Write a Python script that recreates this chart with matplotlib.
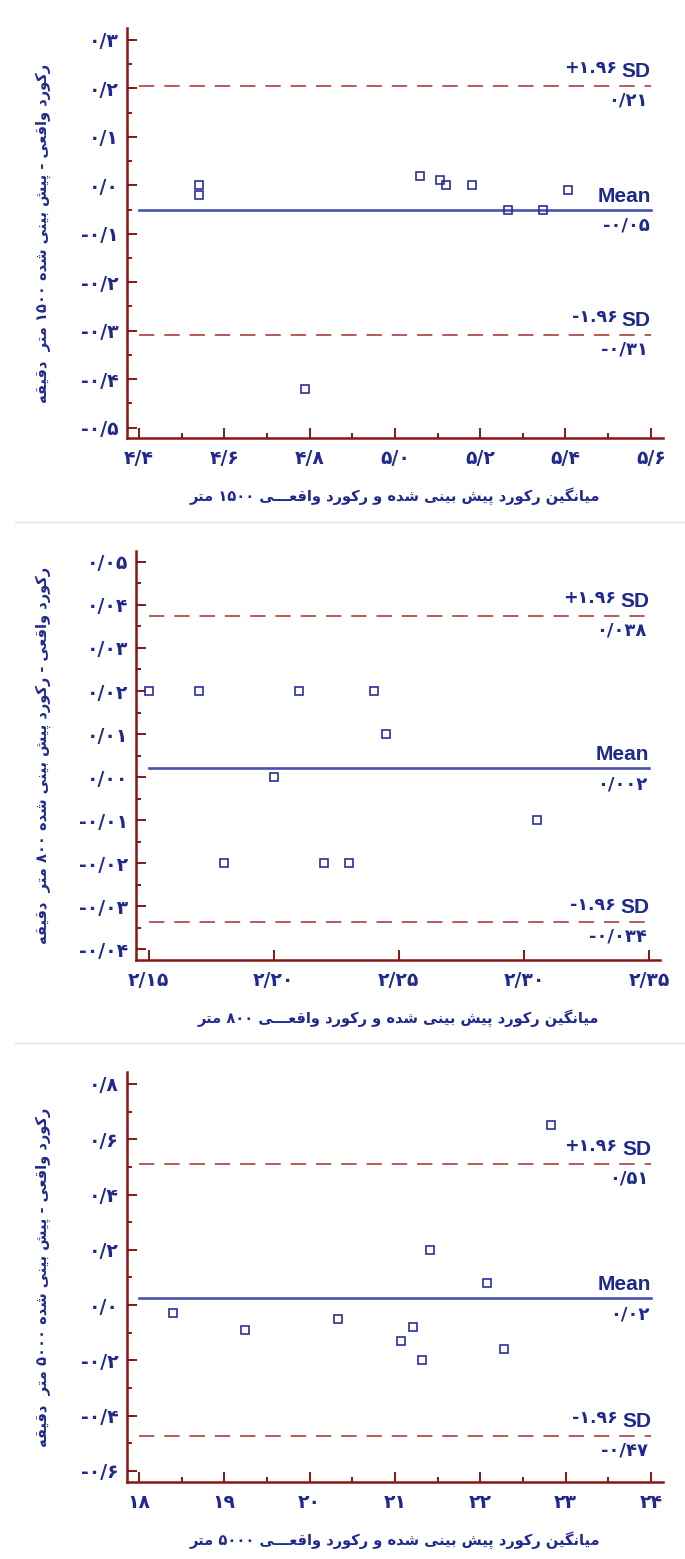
import re
import matplotlib
matplotlib.use("Agg")
import matplotlib.pyplot as plt
from matplotlib.ticker import MultipleLocator, FuncFormatter, NullLocator
from matplotlib.lines import Line2D

# ======== داده‌ها (خوانده شده از تصویر) ========
x_1500 = [4.54, 4.54, 4.79, 5.06, 5.106, 5.12, 5.18, 5.266, 5.347, 5.405]
d_1500 = [0.0, -0.02, -0.42, 0.02, 0.01, 0.0, 0.0, -0.05, -0.05, -0.01]

x_800 = [2.15, 2.17, 2.18, 2.20, 2.21, 2.22, 2.23, 2.24, 2.245, 2.305]
d_800 = [0.02, 0.02, -0.02, 0.0, 0.02, -0.02, -0.02, 0.02, 0.01, -0.01]

x_5000 = [18.40, 19.245, 20.335, 21.07, 21.21, 21.32, 21.41, 22.08, 22.28, 22.83]
d_5000 = [-0.03, -0.09, -0.05, -0.13, -0.08, -0.20, 0.20, 0.08, -0.16, 0.65]

mean_vals = [-0.051, 0.002, 0.024]
upper_vals = [0.205, 0.0375, 0.511]
lower_vals = [-0.308, -0.0337, -0.472]

mean_text = ["-۰/۰۵", "۰/۰۰۲", "۰/۰۲"]
upper_text = ["۰/۲۱", "۰/۰۳۸", "۰/۵۱"]
lower_text = ["-۰/۳۱", "-۰/۰۳۴", "-۰/۴۷"]

xlabels = [
    "میانگین رکورد پیش بینی شده و رکورد واقعـــی ۱۵۰۰ متر",
    "میانگین رکورد پیش بینی شده و رکورد واقعـــی ۸۰۰ متر",
    "میانگین رکورد پیش بینی شده و رکورد واقعـــی ۵۰۰۰ متر",
]
ylabels = [
    "رکورد واقعی - پیش بینی شده ۱۵۰۰ متر  دقیقه",
    "رکورد واقعی - رکورد پیش بینی شده ۸۰۰ متر  دقیقه",
    "رکورد واقعی - پیش بینی شده ۵۰۰۰ متر  دقیقه",
]

# ======== تنظیمات ظاهری ========
navy = "#1f2a8c"
maroon = "#8b1414"
mean_col = "#4b50ad"
sd_col = "#b04e4e"
marker_col = "#2a2e9c"

# مختصات محورها به پیکسل: چپ، بالا، راست، پایین
rects = [(126.7, 28.3, 662.7, 438.3), (136.3, 550.7, 659.7, 960.0), (126.7, 1072.3, 662.7, 1481.7)]
xlims = [(4.371, 5.628), (2.1451, 2.3542), (17.857, 24.138)]
ylims = [(-0.522, 0.324), (-0.0425, 0.0526), (-0.6387, 0.842)]
line_x = [(4.4, 5.6), (2.15, 2.35), (18, 24)]
x_steps = [(0.2, 0.1), (0.05, None), (1, 0.5)]
y_steps = [(0.1, 0.05), (0.01, 0.005), (0.2, 0.1)]
x_dec = [1, 2, 0]
y_dec = [1, 2, 1]

W, H = 685, 1559

# ======== شکل‌دهی حروف فارسی ========
FORMS = {
    "ا": ("\uFE8D", "\uFE8E", None, None),
    "د": ("\uFEA9", "\uFEAA", None, None),
    "ر": ("\uFEAD", "\uFEAE", None, None),
    "و": ("\uFEED", "\uFEEE", None, None),
    "ب": ("\uFE8F", "\uFE90", "\uFE91", "\uFE92"),
    "ت": ("\uFE95", "\uFE96", "\uFE97", "\uFE98"),
    "ش": ("\uFEB5", "\uFEB6", "\uFEB7", "\uFEB8"),
    "ع": ("\uFEC9", "\uFECA", "\uFECB", "\uFECC"),
    "ق": ("\uFED5", "\uFED6", "\uFED7", "\uFED8"),
    "م": ("\uFEE1", "\uFEE2", "\uFEE3", "\uFEE4"),
    "ن": ("\uFEE5", "\uFEE6", "\uFEE7", "\uFEE8"),
    "ه": ("\uFEE9", "\uFEEA", "\uFEEB", "\uFEEC"),
    "پ": ("\uFB56", "\uFB57", "\uFB58", "\uFB59"),
    "ک": ("\uFB8E", "\uFB8F", "\uFB90", "\uFB91"),
    "گ": ("\uFB92", "\uFB93", "\uFB94", "\uFB95"),
    "ی": ("\uFBFC", "\uFBFD", "\uFBFE", "\uFBFF"),
    "ـ": ("ـ", "ـ", "ـ", "ـ"),
}


def fa(text):
    chars = list(text)
    out = []
    for i, c in enumerate(chars):
        if c not in FORMS:
            out.append(c)
            continue
        prev = chars[i - 1] if i > 0 else None
        nxt = chars[i + 1] if i + 1 < len(chars) else None
        jp = prev in FORMS and FORMS[prev][2] is not None
        jn = nxt in FORMS and FORMS[c][2] is not None
        iso, fin, ini, med = FORMS[c]
        if jp and jn:
            out.append(med)
        elif jp:
            out.append(fin)
        elif jn:
            out.append(ini)
        else:
            out.append(iso)
    tokens = re.findall(r"[۰-۹]+|.", "".join(out))
    return "".join(reversed(tokens))


DIG = str.maketrans("0123456789", "۰۱۲۳۴۵۶۷۸۹")


def fa_num(v, dec):
    s = f"{abs(v):.{dec}f}".replace(".", "/").translate(DIG)
    if round(v, dec + 2) < 0:
        s = "-" + s
    return s


plt.rcParams["font.family"] = ["DejaVu Sans"]
fig = plt.figure(figsize=(W / 100, H / 100), dpi=100)
fig.patch.set_facecolor("white")

xs = [x_1500, x_800, x_5000]
ds = [d_1500, d_800, d_5000]

for i in range(3):
    l, t, r, b = rects[i]
    ax = fig.add_axes([l / W, 1 - b / H, (r - l) / W, (b - t) / H])
    ax.set_xlim(*xlims[i])
    ax.set_ylim(*ylims[i])
    for s in ["top", "right"]:
        ax.spines[s].set_visible(False)
    for s in ["left", "bottom"]:
        ax.spines[s].set_color(maroon)
        ax.spines[s].set_linewidth(1.8)

    xa, xb = line_x[i]
    ax.plot([xa, xb], [mean_vals[i]] * 2, color=mean_col, lw=1.9)
    ax.plot([xa, xb], [upper_vals[i]] * 2, color=sd_col, lw=1.3, dashes=(8.5, 5.5))
    ax.plot([xa, xb], [lower_vals[i]] * 2, color=sd_col, lw=1.3, dashes=(8.5, 5.5))
    ax.plot(xs[i], ds[i], "s", ms=6.2, mfc="none", mec=marker_col, mew=1.2, clip_on=False)

    ax.xaxis.set_major_locator(MultipleLocator(x_steps[i][0]))
    if x_steps[i][1]:
        ax.xaxis.set_minor_locator(MultipleLocator(x_steps[i][1]))
    else:
        ax.xaxis.set_minor_locator(NullLocator())
    ax.yaxis.set_major_locator(MultipleLocator(y_steps[i][0]))
    ax.yaxis.set_minor_locator(MultipleLocator(y_steps[i][1]))
    ax.xaxis.set_major_formatter(FuncFormatter(lambda v, p, d=x_dec[i]: fa_num(v, d)))
    ax.yaxis.set_major_formatter(FuncFormatter(lambda v, p, d=y_dec[i]: fa_num(v, d)))
    ax.tick_params(which="both", direction="in", color=maroon, width=1.4,
                   labelcolor=navy, labelsize=13.5)
    ax.tick_params(which="major", length=7.5, pad=6)
    ax.tick_params(which="minor", length=3.8)
    ax.tick_params(axis="x", which="major", pad=8)
    for lab in ax.get_xticklabels() + ax.get_yticklabels():
        lab.set_fontweight("bold")

    # برچسب‌های خطوط
    for val, sign, txt in [(upper_vals[i], "+", upper_text[i]), (lower_vals[i], "-", lower_text[i])]:
        ax.annotate("SD", (xb, val), xytext=(0, 6.5), textcoords="offset points",
                    ha="right", va="baseline", color=navy, fontsize=15, fontweight="bold",
                    family="Liberation Sans")
        ax.annotate(sign + "۱.۹۶", (xb, val), xytext=(-24, 9), textcoords="offset points",
                    ha="right", va="baseline", color=navy, fontsize=12.5, fontweight="bold")
        ax.annotate(txt, (xb, val), xytext=(-2, -4), textcoords="offset points",
                    ha="right", va="top", color=navy, fontsize=13, fontweight="bold")
    ax.annotate("Mean", (xb, mean_vals[i]), xytext=(0, 6), textcoords="offset points",
                ha="right", va="baseline", color=navy, fontsize=15, fontweight="bold",
                family="Liberation Sans")
    ax.annotate(mean_text[i], (xb, mean_vals[i]), xytext=(-1, -5), textcoords="offset points",
                ha="right", va="top", color=navy, fontsize=13, fontweight="bold")

    # عنوان محورها
    fig.text(((l + r) / 2) / W, 1 - (b + 58) / H, fa(xlabels[i]), ha="center", va="center",
             color=navy, fontsize=10.5, fontweight="bold")
    fig.text(43.7 / W, 1 - ((t + b) / 2) / H, fa(ylabels[i]), ha="center", va="center",
             rotation=90, color=navy, fontsize=10.5, fontweight="bold")

# خطوط جداکننده
for yy in [522, 1043]:
    fig.add_artist(Line2D([15 / W, 1], [1 - yy / H] * 2, color="#e2e2e2", lw=1))

fig.savefig("out.png", dpi=100, facecolor="white")
